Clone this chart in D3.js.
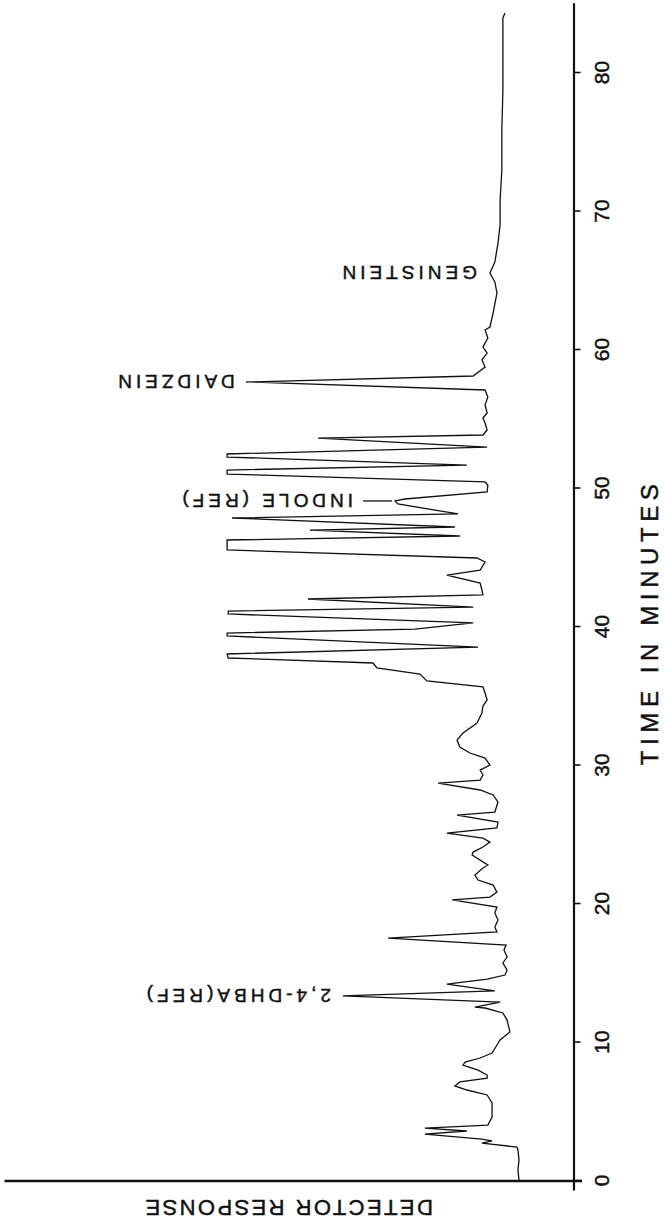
<!DOCTYPE html>
<html>
<head>
<meta charset="utf-8">
<script src="https://cdn.jsdelivr.net/npm/d3@7"></script>
<style>
	html, body { margin: 0; padding: 0; background: #ffffff; }
	svg { display: block; }
	text { font-family: "Liberation Sans", Arial, Helvetica, sans-serif; fill: #111111; stroke: #111111; stroke-width: 0.45px; }
</style>
</head>
<body>
<svg id="chart" width="665" height="1226"></svg>
<script>
// Retention time (minutes) and detector response (chart units, 0 = axis).
var times = [
	0.00, 0.72, 1.44, 2.17, 2.38, 2.67, 2.82, 2.96, 3.32, 3.54, 3.75, 3.97, 4.55, 5.56, 6.14, 6.50,
	6.79, 7.08, 7.36, 7.58, 7.94, 8.30, 8.52, 8.81, 9.17, 9.75, 10.11, 10.69, 11.55, 12.06, 12.42, 12.49,
	12.85, 13.29, 13.65, 14.15, 14.51, 14.80, 15.16, 15.67, 16.10, 16.61, 16.97, 17.47, 17.91, 18.27, 18.77, 19.28,
	19.71, 20.22, 20.43, 20.79, 21.30, 21.66, 22.02, 22.53, 22.74, 23.10, 23.47, 23.68, 24.04, 24.40, 24.69, 25.05,
	25.42, 25.85, 26.35, 26.57, 27.29, 27.80, 28.16, 28.66, 28.88, 29.24, 29.60, 29.96, 30.47, 30.83, 31.26, 31.77,
	32.27, 33.00, 33.72, 34.22, 34.66, 35.16, 35.60, 36.03, 36.53, 36.97, 37.33, 37.69, 37.98, 38.48, 39.28, 39.49,
	39.78, 40.22, 40.87, 41.08, 41.37, 41.95, 42.24, 42.60, 43.10, 43.68, 44.04, 44.62, 44.91, 45.49, 46.21, 46.50,
	46.93, 47.15, 47.80, 48.09, 48.81, 49.03, 49.17, 49.68, 50.18, 50.40, 50.97, 51.26, 51.62, 52.20, 52.42, 52.92,
	53.57, 53.79, 54.15, 54.66, 55.02, 55.38, 55.96, 56.53, 57.04, 57.62, 58.05, 58.70, 59.21, 59.71, 60.14, 60.79,
	61.37, 61.59, 62.60, 64.04, 64.84, 65.49, 66.28, 67.65, 68.95, 70.76, 72.92, 75.81, 78.70, 81.59, 83.90, 84.26
];
var responses = [
	16.0, 16.3, 16.0, 16.3, 16.6, 26.6, 23.7, 26.6, 42.9, 30.9, 42.9, 24.9, 23.7, 23.7, 25.1, 30.9,
	34.3, 32.9, 25.1, 25.1, 27.7, 32.0, 31.4, 27.1, 23.7, 22.3, 21.4, 18.6, 19.4, 20.6, 25.7, 28.6,
	21.4, 66.3, 22.9, 36.6, 25.1, 20.0, 19.4, 20.6, 19.4, 20.3, 19.7, 53.4, 22.3, 22.9, 22.0, 22.9,
	22.3, 35.1, 24.3, 22.3, 23.4, 27.7, 28.6, 26.3, 24.9, 27.1, 29.4, 29.1, 26.3, 24.3, 26.3, 36.6,
	22.3, 22.0, 33.7, 22.9, 22.0, 23.4, 27.1, 39.1, 27.1, 26.3, 27.1, 24.3, 25.7, 30.0, 32.9, 33.7,
	32.0, 28.0, 26.6, 26.3, 25.1, 25.7, 26.3, 42.3, 44.3, 56.6, 57.7, 99.1, 99.4, 27.7, 99.4, 99.4,
	45.7, 29.1, 99.1, 99.1, 29.1, 76.3, 26.3, 26.6, 27.1, 36.6, 27.1, 25.7, 28.0, 99.4, 99.4, 32.9,
	75.7, 34.3, 98.0, 33.4, 50.6, 51.4, 48.6, 25.1, 24.9, 25.7, 99.4, 99.4, 30.9, 99.4, 99.4, 25.1,
	73.4, 26.3, 25.1, 25.7, 26.3, 25.1, 25.7, 24.9, 25.7, 92.9, 29.1, 25.7, 26.6, 25.1, 26.3, 24.9,
	25.7, 24.3, 23.4, 22.3, 22.9, 24.3, 22.9, 22.0, 21.4, 21.4, 20.9, 20.9, 20.6, 20.6, 20.6, 20.0
];
var timeTicks = [0, 10, 20, 30, 40, 50, 60, 70, 80];
var peakNames = ["2,4-DHBA(REF)", "INDOLE (REF)", "DAIDZEIN", "GENISTEIN"];
var peakTimes = [13.29, 49.03, 57.62, 65.49];

var svg = d3.select("#chart");

// Time runs up the page, response grows to the left.
var y = d3.scaleLinear().domain([-0.72, 85]).range([1190, 2.75]);
var x = d3.scaleLinear().domain([0, 100]).range([575, 225]);

var trace = times.map(function(t, i) { return [t, responses[i]]; });

// Response baseline across the bottom.
svg.append("line")
	.attr("x1", x(163)).attr("x2", x(-2))
	.attr("y1", y(0) + 1).attr("y2", y(0) + 1)
	.attr("stroke", "#111").attr("stroke-width", 2.6);

// Time axis.
var axis = svg.append("g")
	.attr("transform", "translate(573.5,0)")
	.call(d3.axisRight(y).tickValues(timeTicks).tickSize(7).tickSizeOuter(0).tickPadding(0));
axis.select(".domain").attr("stroke", "#111").attr("stroke-width", 2.2);
axis.selectAll(".tick line").attr("stroke", "#111").attr("stroke-width", 1.6);
axis.selectAll(".tick text")
	.attr("x", null).attr("dy", null)
	.attr("text-anchor", "middle")
	.attr("dominant-baseline", "central")
	.attr("transform", "translate(28,0) rotate(-90)")
	.style("font-size", "21px")
	.style("font-family", "'Liberation Sans', Arial, sans-serif")
	.attr("fill", "#111");

svg.append("path")
	.datum(trace)
	.attr("fill", "none")
	.attr("stroke", "#111")
	.attr("stroke-width", 1.3)
	.attr("stroke-linejoin", "miter")
	.attr("d", d3.line().x(function(d) { return x(d[1]); }).y(function(d) { return y(d[0]); }));

// Axis titles.
svg.append("text")
	.attr("transform", "translate(649," + y(40.3) + ") rotate(-90)")
	.attr("text-anchor", "middle")
	.attr("dominant-baseline", "central")
	.style("font-size", "24px")
	.style("letter-spacing", "5.6px")
	.text("TIME IN MINUTES");

svg.append("text")
	.attr("transform", "translate(" + x(82) + ",1207) rotate(180)")
	.attr("text-anchor", "middle")
	.attr("dominant-baseline", "central")
	.style("font-size", "22px")
	.style("letter-spacing", "2.4px")
	.text("DETECTOR RESPONSE");

// Peak labels, printed upside down like the recorder chart.
var labelGap = [12, 42, 15, 13];
peakNames.forEach(function(name, i)
{
	var k = times.indexOf(peakTimes[i]);
	var tipX = x(responses[k]);
	var tipY = y(peakTimes[i]);
	if (name === "INDOLE (REF)")
	{
		svg.append("line")
			.attr("x1", tipX - 3).attr("x2", tipX - 32)
			.attr("y1", tipY).attr("y2", tipY)
			.attr("stroke", "#111").attr("stroke-width", 1.3);
	}
	if (name === "DAIDZEIN")
	{
		svg.append("line")
			.attr("x1", tipX).attr("x2", tipX - 4)
			.attr("y1", tipY).attr("y2", tipY)
			.attr("stroke", "#111").attr("stroke-width", 1.3);
	}
	svg.append("text")
		.attr("transform", "translate(" + (tipX - labelGap[i]) + "," + (tipY - 0.5) + ") rotate(180)")
		.attr("text-anchor", "start")
		.attr("dominant-baseline", "central")
		.style("font-size", "19px")
		.style("letter-spacing", "4px")
		.text(name);
});
</script>
</body>
</html>
